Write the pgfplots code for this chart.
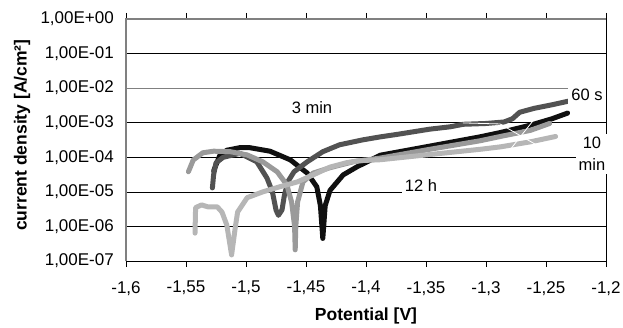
\documentclass[border=0pt]{standalone}
\usepackage{pgfplots}
\pgfplotsset{compat=1.18}
\usepackage{fontspec}
\setmainfont{Liberation Sans}
\definecolor{cblack}{HTML}{101010}
\definecolor{cdark}{HTML}{525252}
\definecolor{cmed}{HTML}{9A9A9A}
\definecolor{clight}{HTML}{B6B6B6}
\definecolor{cframe}{HTML}{808080}
\begin{document}
\begin{tikzpicture}
\begin{axis}[
  name=ax, at={(0,0)}, anchor=south west,
  scale only axis, width=480pt, height=242pt,
  xmin=-1.6, xmax=-1.2,
  ymode=log, ymin=1e-7, ymax=1,
  clip=false,
  xtick={-1.6,-1.55,-1.5,-1.45,-1.4,-1.35,-1.3,-1.25,-1.2},
  xticklabels={{-1,6},{-1,55},{-1,5},{-1,45},{-1,4},{-1,35},{-1,3},{-1,25},{-1,2}},
  ytick={1e-7,1e-6,1e-5,1e-4,1e-3,1e-2,1e-1,1},
  yticklabels={{1,00E-07},{1,00E-06},{1,00E-05},{1,00E-04},{1,00E-03},{1,00E-02},{1,00E-01},{1,00E+00}},
  minor ytick={}, yminorticks=false,
  tick align=outside, major tick length=6pt,
  xtick style={black, line width=0.75pt},
  ytick style={draw=none},
  ymajorgrids, major grid style={black, line width=0.6pt},
  axis line style={black, line width=0.75pt},
  tick label style={font=\fontsize{17}{20}\selectfont},
  xticklabel style={inner sep=0pt, anchor=north, yshift=-14pt},
  yticklabel style={inner sep=0pt, anchor=east, xshift=-6pt},
  xlabel={\textbf{Potential [V]}},
  ylabel={\textbf{current density [A/cm²]}},
  every axis x label/.style={at={(rel axis cs:0.5,0)}, anchor=center, yshift=-55pt, font=\fontsize{17.5}{20}\selectfont},
  every axis y label/.style={at={(rel axis cs:0,0.52)}, xshift=-104pt, rotate=90, anchor=center, font=\fontsize{17.5}{20}\selectfont},
  every axis plot/.append style={line width=5pt, line cap=round, line join=round},
]
\draw[cframe, line width=0.6pt] (axis cs:-1.6,1e-2) -- (axis cs:-1.2,1e-2);

% black
\addplot[cblack] coordinates {
(-1.527,4e-5) (-1.522,1.1e-4) (-1.516,1.6e-4) (-1.505,1.9e-4) (-1.497,1.9e-4)
(-1.48,1.5e-4) (-1.463,8.4e-5) (-1.449,3.5e-5) (-1.441,1.4e-5) (-1.438,4e-6)
(-1.436,4.5e-7) (-1.434,4e-6) (-1.43,1.1e-5) (-1.419,3.1e-5) (-1.4075,5.3e-5)
(-1.388,1.15e-4) (-1.347,2.1e-4) (-1.305,3.9e-4) (-1.288,5.2e-4) (-1.263,8.5e-4)
(-1.245,1.3e-3) (-1.232,1.9e-3)
};
% dark gray
\addplot[cdark] coordinates {
(-1.528,1.3e-5) (-1.527,3.1e-5) (-1.525,6.9e-5) (-1.519,1.0e-4) (-1.505,1.3e-4)
(-1.491,7.4e-5) (-1.4825,2.5e-5) (-1.478,1e-5) (-1.475,3e-6) (-1.473,2.1e-6)
(-1.470,3e-6) (-1.468,8e-6) (-1.465,2e-5) (-1.46,3.8e-5) (-1.449,7.4e-5)
(-1.436,1.45e-4) (-1.422,2.3e-4) (-1.4025,3.2e-4) (-1.388,3.9e-4) (-1.374,4.6e-4)
(-1.347,6.5e-4) (-1.33,7.6e-4) (-1.319,9e-4) (-1.30,9.5e-4) (-1.285,1.05e-3)
(-1.278,1.3e-3) (-1.272,2e-3) (-1.26,2.6e-3) (-1.245,3.3e-3) (-1.230,4.3e-3)
};
% medium gray
\addplot[cmed] coordinates {
(-1.548,3.8e-5) (-1.544,8.3e-5) (-1.536,1.35e-4) (-1.527,1.5e-4) (-1.513,1.45e-4)
(-1.499,1.17e-4) (-1.486,7.4e-5) (-1.474,3.8e-5) (-1.466,1.6e-5) (-1.462,5.1e-6)
(-1.4595,1e-6) (-1.459,2.1e-7) (-1.4585,1e-6) (-1.457,5.1e-6) (-1.4525,1.95e-5)
(-1.444,3.5e-5) (-1.43,5e-5) (-1.41,7.5e-5) (-1.388,9.5e-5) (-1.347,1.7e-4)
(-1.305,3e-4) (-1.288,4e-4) (-1.263,6e-4) (-1.247,9.5e-4)
};
% light gray
\addplot[clight] coordinates {
(-1.5425,6.4e-7) (-1.542,3.5e-6) (-1.537,4.2e-6) (-1.532,3.7e-6) (-1.524,3.7e-6)
(-1.52,2.6e-6) (-1.516,1.1e-6) (-1.512,1.5e-7) (-1.509,9e-7) (-1.507,2.6e-6)
(-1.499,6.8e-6) (-1.486,1e-5) (-1.472,1.4e-5) (-1.457,1.95e-5) (-1.444,3.1e-5)
(-1.43,5.2e-5) (-1.416,7e-5) (-1.405,8e-5) (-1.388,8.5e-5) (-1.347,1.2e-4)
(-1.305,1.7e-4) (-1.288,2.0e-4) (-1.263,2.8e-4) (-1.242,4e-4)
};
% white leader lines
\draw[white, line width=0.8pt] (axis cs:-1.3192,9.86e-4) -- (axis cs:-1.2883,9.2e-4) -- (axis cs:-1.2508,1.64e-4);
\draw[white, line width=0.8pt] (axis cs:-1.255,2.05e-3) -- (axis cs:-1.28,1.64e-4);
% labels
\begin{scope}[every node/.style={font=\fontsize{16.5}{22}\selectfont, fill=white, inner sep=3pt}]
\node at (axis cs:-1.445,2.68e-3) {3 min};
\node at (axis cs:-1.2158,6.35e-3) {60 s};
\node[align=center] at (axis cs:-1.2117,1.26e-4) {10\\min};
\node at (axis cs:-1.3542,1.49e-5) {12 h};
\end{scope}
\draw[cframe, line width=1.5pt] (rel axis cs:0,0) -- (rel axis cs:0,1) -- (rel axis cs:1,1);
\end{axis}
\pgfresetboundingbox
\path ([shift={(-126pt,-67pt)}]ax.south west) rectangle ([shift={(17pt,19pt)}]ax.north east);
\end{tikzpicture}
\end{document}
